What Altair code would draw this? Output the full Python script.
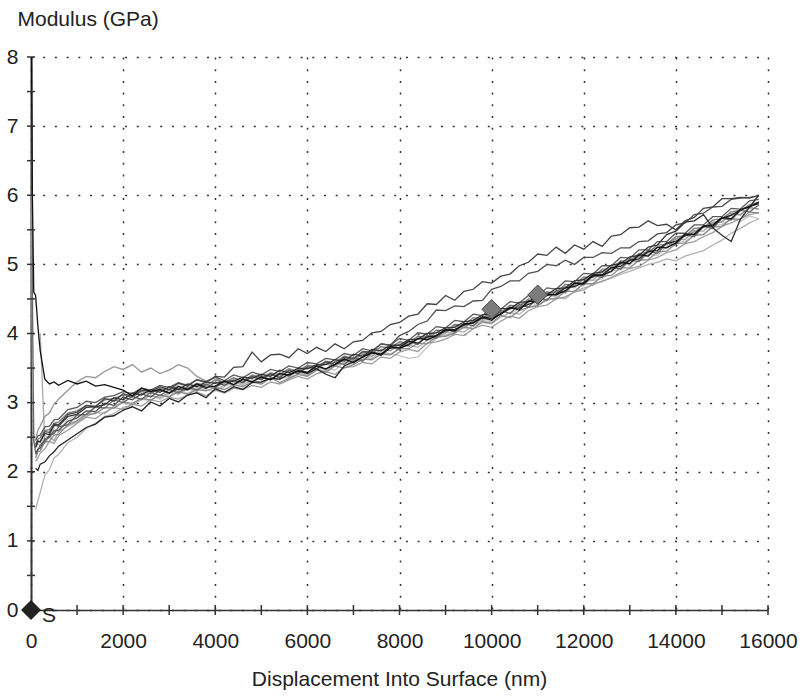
import altair as alt
import pandas as pd

N = None

# Depth grid (nm) shared by every indent curve
X = [10, 30, 60, 100, 150, 200, 300, 400, 500, 600, 800,
     1000, 1200, 1400, 1600, 1800, 2000, 2200, 2400, 2600, 2800,
     3000, 3200, 3400, 3600, 3800, 4000, 4200, 4400, 4600, 4800,
     5000, 5200, 5400, 5600, 5800, 6000, 6200, 6400, 6600, 6800,
     7000, 7200, 7400, 7600, 7800, 8000, 8200, 8400, 8600, 8800,
     9000, 9200, 9400, 9600, 9800, 10000, 10200, 10400, 10600, 10800,
     11000, 11200, 11400, 11600, 11800, 12000, 12200, 12400, 12600, 12800,
     13000, 13200, 13400, 13600, 13800, 14000, 14200, 14400, 14600, 14800,
     15000, 15200, 15400, 15600, 15800]

# Modulus (GPa) of each indent
J = [6.0, 3.6, 2.5, 2.35, 2.40, 2.38, 2.52, 2.49, 2.62, 2.58, 2.76,
     2.82, 2.80, 2.93, 2.92, 2.92, 3.02, 3.09, 3.03, 3.11, 3.05,
     3.13, 3.20, 3.13, 3.22, 3.18, 3.17, 3.26, 3.32, 3.26, 3.31,
     3.27, 3.36, 3.36, 3.36, 3.45, 3.40, 3.50, 3.49, 3.47, 3.59,
     3.62, 3.60, 3.70, 3.73, 3.71, 3.68, 3.64, 3.66, 3.80, 3.93,
     4.02, 4.00, 4.13, 4.12, 4.19, 4.17, 4.32, 4.29, 4.36, 4.44,
     4.42, 4.55, 4.53, 4.62, 4.60, 4.75, 4.77, 4.79, 4.91, 4.92,
     5.04, 5.04, 5.15, 5.13, 5.26, 5.35, 5.33, 5.43, 5.44, 5.56,
     5.58, 5.66, 5.62, 5.70, 5.66]
B = [N, N, N, 1.45, 1.58, 1.70, 1.95, 2.03, 2.20, 2.25, 2.42,
     2.50, 2.63, 2.70, 2.80, 2.84, 2.93, 2.96, 3.05, 3.03, 3.12,
     3.09, 3.17, 3.21, 3.16, 3.26, 3.20, 3.23, 3.30, 3.25, 3.33,
     3.29, 3.36, 3.33, 3.41, 3.44, 3.39, 3.48, 3.46, 3.53, 3.58,
     3.57, 3.66, 3.64, 3.73, 3.70, 3.79, 3.83, 3.80, 3.90, 3.94,
     3.97, 4.04, 4.02, 4.12, 4.16, 4.14, 4.24, 4.30, 4.28, 4.38,
     4.41, 4.48, 4.52, 4.50, 4.61, 4.66, 4.70, 4.76, 4.80, 4.86,
     4.90, 4.95, 5.00, 5.03, 5.08, 5.05, 5.12, 5.16, 5.20, 5.28,
     5.35, 5.45, 5.52, 5.60, 5.66]
L = [N, N, N, N, N, 4.0, 2.42, 2.50, 2.45, 2.58, 2.66,
     2.72, 2.80, 2.86, 2.84, 2.95, 3.00, 2.97, 3.06, 3.10, 3.07,
     3.15, 3.12, 3.21, 3.19, 3.26, 3.22, 3.29, 3.33, 3.28, 3.37,
     3.34, 3.40, 3.38, 3.46, 3.42, 3.51, 3.48, 3.57, 3.55, 3.64,
     3.60, 3.71, 3.74, 3.70, 3.80, 3.84, 3.81, 3.92, 3.97, 3.95,
     4.00, 4.11, 4.09, 4.20, 4.18, 4.29, 4.27, 4.38, 4.36, 4.47,
     4.46, 4.57, 4.55, 4.68, 4.66, 4.79, 4.77, 4.90, 4.89, 5.02,
     5.00, 5.13, 5.12, 5.25, 5.24, 5.37, 5.36, 5.49, 5.48, 5.61,
     5.62, 5.74, 5.71, 5.82, 5.80]
Nn = [N, N, N, 2.15, 2.20, 2.27, 2.33, 2.44, 2.41, 2.52, 2.60,
      2.70, 2.79, 2.77, 2.86, 2.93, 2.90, 2.98, 2.95, 3.04, 3.01,
      3.08, 3.05, 3.11, 3.15, 3.10, 3.18, 3.14, 3.21, 3.19, 3.25,
      3.22, 3.30, 3.27, 3.33, 3.38, 3.34, 3.42, 3.45, 3.41, 3.51,
      3.52, 3.58, 3.56, 3.66, 3.64, 3.73, 3.77, 3.74, 3.86, 3.88,
      3.92, 3.99, 3.97, 4.07, 4.12, 4.09, 4.18, 4.25, 4.22, 4.33,
      4.39, 4.41, 4.50, 4.53, 4.60, 4.63, 4.72, 4.75, 4.81, 4.88,
      4.94, 4.97, 5.06, 5.10, 5.17, 5.21, 5.30, 5.33, 5.40, 5.46,
      5.55, 5.60, 5.66, 5.72, 5.75]
D = [N, N, N, 2.48, 2.60, 2.66, 2.80, 2.85, 2.98, 3.05, 3.18,
     3.30, 3.38, 3.36, 3.45, 3.52, 3.48, 3.55, 3.44, 3.50, 3.42,
     3.47, 3.55, 3.50, 3.38, 3.31, 3.36, 3.28, 3.35, 3.30, 3.39,
     3.34, 3.41, 3.38, 3.46, 3.43, 3.51, 3.49, 3.56, 3.53, 3.63,
     3.61, 3.70, 3.67, 3.77, 3.75, 3.85, 3.84, 3.93, 3.92, 4.02,
     4.01, 4.13, 4.08, 4.18, 4.24, 4.26, 4.31, 4.36, 4.42, 4.45,
     4.52, 4.55, 4.62, 4.66, 4.70, 4.79, 4.82, 4.88, 4.96, 5.00,
     5.08, 5.11, 5.20, 5.24, 5.29, 5.37, 5.43, 5.47, 5.55, 5.60,
     5.61, 5.73, 5.72, 5.82, 5.80]
H = [N, N, N, 2.20, 2.29, 2.30, 2.43, 2.44, 2.53, 2.54, 2.68,
     2.74, 2.83, 2.84, 2.93, 2.92, 3.01, 2.99, 3.06, 3.04, 3.11,
     3.08, 3.16, 3.12, 3.19, 3.17, 3.22, 3.19, 3.26, 3.23, 3.30,
     3.27, 3.36, 3.29, 3.35, 3.41, 3.38, 3.47, 3.44, 3.53, 3.50,
     3.55, 3.63, 3.62, 3.70, 3.69, 3.78, 3.78, 3.86, 3.85, 3.95,
     3.96, 4.01, 4.09, 4.07, 4.17, 4.15, 4.26, 4.23, 4.33, 4.38,
     4.40, 4.50, 4.50, 4.61, 4.61, 4.72, 4.72, 4.83, 4.84, 4.95,
     4.95, 5.06, 5.07, 5.18, 5.19, 5.30, 5.31, 5.42, 5.43, 5.54,
     5.55, 5.66, 5.65, 5.76, 5.74]
G = [N, N, N, 2.40, 2.47, 2.49, 2.60, 2.61, 2.70, 2.72, 2.85,
     2.88, 2.96, 2.95, 3.04, 3.06, 3.11, 3.08, 3.16, 3.13, 3.21,
     3.18, 3.24, 3.20, 3.28, 3.25, 3.33, 3.29, 3.36, 3.31, 3.40,
     3.36, 3.43, 3.41, 3.49, 3.45, 3.54, 3.52, 3.60, 3.58, 3.67,
     3.64, 3.73, 3.71, 3.81, 3.79, 3.88, 3.86, 3.96, 3.94, 4.05,
     4.04, 4.13, 4.12, 4.23, 4.21, 4.32, 4.30, 4.41, 4.39, 4.50,
     4.50, 4.60, 4.59, 4.71, 4.70, 4.82, 4.81, 4.93, 4.93, 5.05,
     5.05, 5.16, 5.17, 5.28, 5.29, 5.40, 5.41, 5.52, 5.53, 5.64,
     5.66, 5.76, 5.78, 5.86, 5.90]
I = [8.0, 4.6, 2.45, 2.28, 2.31, 2.39, 2.44, 2.53, 2.55, 2.65, 2.68,
     2.82, 2.83, 2.94, 2.92, 3.04, 3.00, 3.09, 3.05, 3.15, 3.10,
     3.19, 3.14, 3.23, 3.18, 3.27, 3.22, 3.31, 3.25, 3.35, 3.29,
     3.39, 3.33, 3.43, 3.38, 3.48, 3.43, 3.53, 3.48, 3.59, 3.55,
     3.66, 3.60, 3.73, 3.68, 3.81, 3.76, 3.89, 3.84, 3.97, 3.93,
     4.06, 4.02, 4.15, 4.11, 4.24, 4.20, 4.33, 4.29, 4.42, 4.38,
     4.52, 4.48, 4.62, 4.59, 4.73, 4.70, 4.84, 4.81, 4.96, 4.93,
     5.07, 5.04, 5.19, 5.16, 5.31, 5.28, 5.43, 5.40, 5.55, 5.52,
     5.67, 5.64, 5.78, 5.76, 5.86]
M = [N, N, N, 2.45, 2.52, 2.53, 2.65, 2.66, 2.75, 2.76, 2.90,
     2.93, 3.02, 3.00, 3.08, 3.10, 3.16, 3.13, 3.21, 3.18, 3.25,
     3.22, 3.29, 3.25, 3.33, 3.30, 3.37, 3.32, 3.40, 3.36, 3.44,
     3.40, 3.48, 3.45, 3.53, 3.50, 3.58, 3.56, 3.64, 3.62, 3.71,
     3.68, 3.78, 3.75, 3.85, 3.83, 3.93, 3.90, 4.01, 3.99, 4.10,
     4.08, 4.19, 4.17, 4.28, 4.26, 4.37, 4.35, 4.46, 4.44, 4.55,
     4.54, 4.66, 4.64, 4.76, 4.75, 4.87, 4.86, 4.98, 4.98, 5.10,
     5.09, 5.21, 5.21, 5.33, 5.33, 5.45, 5.45, 5.57, 5.57, 5.69,
     5.69, 5.81, 5.80, 5.92, 5.94]
F = [N, N, N, 2.25, 2.33, 2.34, 2.47, 2.50, 2.59, 2.60, 2.73,
     2.78, 2.88, 2.87, 2.99, 2.96, 3.08, 3.04, 3.13, 3.08, 3.18,
     3.14, 3.20, 3.18, 3.26, 3.20, 3.30, 3.25, 3.32, 3.29, 3.38,
     3.33, 3.42, 3.36, 3.47, 3.42, 3.52, 3.49, 3.59, 3.55, 3.66,
     3.63, 3.74, 3.73, 3.85, 3.83, 3.97, 4.03, 4.13, 4.18, 4.34,
     4.33, 4.40, 4.39, 4.47, 4.48, 4.64, 4.68, 4.76, 4.76, 4.87,
     4.90, 5.00, 4.98, 5.06, 5.00, 5.10, 5.10, 5.17, 5.16, 5.24,
     5.24, 5.33, 5.34, 5.44, 5.46, 5.57, 5.60, 5.72, 5.74, 5.83,
     5.84, 5.94, 5.96, 5.97, 5.99]
E = [N, N, N, 2.38, 2.45, 2.43, 2.58, 2.57, 2.69, 2.68, 2.83,
     2.86, 2.96, 2.94, 3.06, 3.02, 3.13, 3.09, 3.18, 3.16, 3.23,
     3.19, 3.28, 3.24, 3.33, 3.29, 3.38, 3.37, 3.51, 3.52, 3.73,
     3.59, 3.69, 3.70, 3.65, 3.78, 3.71, 3.80, 3.74, 3.85, 3.78,
     3.88, 3.90, 4.01, 4.03, 4.13, 4.16, 4.25, 4.28, 4.43, 4.42,
     4.55, 4.48, 4.61, 4.64, 4.75, 4.73, 4.83, 4.86, 4.98, 5.03,
     5.15, 5.13, 5.25, 5.16, 5.28, 5.22, 5.33, 5.26, 5.41, 5.43,
     5.53, 5.54, 5.63, 5.56, 5.58, 5.50, 5.63, 5.68, 5.81, 5.83,
     5.95, 5.95, 5.97, 5.96, 6.00]
K = [N, N, N, 2.35, 2.43, 2.44, 2.55, 2.54, 2.67, 2.66, 2.80,
     2.83, 2.93, 2.94, 2.97, 3.07, 3.04, 3.14, 3.11, 3.19, 3.15,
     3.23, 3.19, 3.27, 3.23, 3.30, 3.28, 3.31, 3.31, 3.37, 3.35,
     3.41, 3.38, 3.47, 3.43, 3.50, 3.49, 3.55, 3.55, 3.62, 3.60,
     3.70, 3.67, 3.77, 3.75, 3.83, 3.83, 3.91, 3.92, 4.00, 4.01,
     4.08, 4.09, 4.17, 4.19, 4.27, 4.28, 4.36, 4.36, 4.45, 4.46,
     4.55, 4.56, 4.65, 4.66, 4.76, 4.78, 4.87, 4.89, 4.99, 5.01,
     5.11, 5.13, 5.25, 5.28, 5.43, 5.48, 5.61, 5.63, 5.72, 5.53,
     5.42, 5.33, 5.65, 5.83, 6.00]
C = [N, N, N, 2.05, 2.02, 2.11, 2.14, 2.23, 2.29, 2.37, 2.46,
     2.55, 2.64, 2.69, 2.79, 2.81, 2.89, 2.94, 2.88, 3.01, 2.95,
     3.06, 3.01, 3.11, 3.14, 3.07, 3.20, 3.15, 3.23, 3.19, 3.29,
     3.30, 3.35, 3.34, 3.41, 3.46, 3.42, 3.49, 3.41, 3.36, 3.53,
     3.59, 3.66, 3.73, 3.69, 3.79, 3.80, 3.89, 3.86, 3.95, 3.97,
     4.04, 4.06, 4.12, 4.16, 4.23, 4.19, 4.29, 4.36, 4.37, 4.42,
     4.48, 4.55, 4.57, 4.66, 4.68, 4.74, 4.83, 4.85, 4.95, 4.97,
     5.06, 5.08, 5.19, 5.20, 5.31, 5.33, 5.42, 5.44, 5.56, 5.55,
     5.67, 5.71, 5.79, 5.84, 5.88]
A = [8.0, 6.0, 4.6, 4.55, 4.1, 3.75, 3.34, 3.27, 3.30, 3.25, 3.32,
     3.27, 3.31, 3.24, 3.26, 3.22, 3.18, 3.10, 3.21, 3.16, 3.19,
     3.14, 3.23, 3.19, 3.27, 3.22, 3.24, 3.31, 3.26, 3.34, 3.30,
     3.37, 3.33, 3.42, 3.40, 3.46, 3.44, 3.53, 3.49, 3.55, 3.63,
     3.58, 3.66, 3.72, 3.70, 3.81, 3.79, 3.84, 3.93, 3.91, 3.97,
     4.06, 4.04, 4.14, 4.15, 4.24, 4.22, 4.28, 4.38, 4.34, 4.47,
     4.46, 4.57, 4.56, 4.62, 4.73, 4.72, 4.85, 4.84, 4.90, 5.03,
     5.01, 5.14, 5.12, 5.25, 5.24, 5.31, 5.44, 5.43, 5.55, 5.57,
     5.68, 5.66, 5.79, 5.83, 5.90]

curve_names = ["J", "B", "L", "N", "D", "H", "G", "I", "M", "F", "E", "K", "C", "A"]
curve_values = [J, B, L, Nn, D, H, G, I, M, F, E, K, C, A]
curve_colors = ["#c4c4c4", "#b2b2b2", "#a8a8a8", "#9e9e9e", "#969696", "#8a8a8a",
                "#7a7a7a", "#686868", "#5a5a5a", "#505050", "#444444", "#333333",
                "#222222", "#111111"]

# Marker points
marker_x = [0]
marker_y = [0]
marker_text = ["S"]
grey_marker_x = [10000, 11000]
grey_marker_y = [4.35, 4.56]

x_label_values = [0, 2000, 4000, 6000, 8000, 10000, 12000, 14000, 16000]
y_label_values = [0, 1, 2, 3, 4, 5, 6, 7, 8]
x_tick_values = [0, 1000, 2000, 3000, 4000, 5000, 6000, 7000, 8000, 9000, 10000,
                 11000, 12000, 13000, 14000, 15000, 16000]
y_tick_values = [0, 0.5, 1, 1.5, 2, 2.5, 3, 3.5, 4, 4.5, 5, 5.5, 6, 6.5, 7, 7.5, 8]

rows = []
for name, vals in zip(curve_names, curve_values):
    assert len(vals) == len(X), (name, len(vals))
    for xv, yv in zip(X, vals):
        if yv is not None:
            rows.append({"curve": name, "x": xv, "y": yv})
df = pd.DataFrame(rows)

FONT = "Liberation Sans"
W, Hh = 737, 553
xscale = alt.Scale(domain=[0, 16000], nice=False, zero=False)
yscale = alt.Scale(domain=[0, 8], nice=False, zero=False)

x_axis = alt.Axis(values=x_label_values, format="d", title="Displacement Into Surface (nm)",
                  grid=True, gridDash=[2, 9.7], gridColor="#333333", gridWidth=1.5,
                  ticks=False, tickSize=0, domain=True, domainColor="#333333", domainWidth=1.5,
                  labelFont=FONT, labelFontSize=21, labelColor="#222222", labelPadding=20,
                  labelFlush=False, labelOverlap=False,
                  titleFont=FONT, titleFontSize=21, titleFontWeight="normal", titleColor="#222222",
                  titleX=368, titleY=75, titleBaseline="alphabetic", titleAlign="center")
y_axis = alt.Axis(values=y_label_values, format="d", title="Modulus (GPa)",
                  grid=True, gridDash=[2, 9.7], gridColor="#333333", gridWidth=1.5,
                  ticks=False, tickSize=0, domain=True, domainColor="#333333", domainWidth=2,
                  labelFont=FONT, labelFontSize=21, labelColor="#222222", labelPadding=13,
                  labelFlush=False, labelOverlap=False,
                  titleFont=FONT, titleFontSize=21, titleFontWeight="normal", titleColor="#222222",
                  titleAngle=0, titleAlign="left", titleBaseline="alphabetic",
                  titleX=-14, titleY=-32)

lines = alt.Chart(df).mark_line(strokeWidth=1.3, clip=True).encode(
    x=alt.X("x:Q", scale=xscale, axis=x_axis),
    y=alt.Y("y:Q", scale=yscale, axis=y_axis),
    color=alt.Color("curve:N", scale=alt.Scale(domain=curve_names, range=curve_colors), legend=None),
    order=alt.Order("x:Q"),
)

xt = alt.Chart(pd.DataFrame({"x": x_tick_values})).mark_rule(color="#333333", strokeWidth=1.5).encode(
    x=alt.X("x:Q", scale=xscale),
    y=alt.value(Hh - 5), y2=alt.value(Hh + 5),
)
yt = alt.Chart(pd.DataFrame({"y": y_tick_values})).mark_rule(color="#333333", strokeWidth=1.5).encode(
    y=alt.Y("y:Q", scale=yscale),
    x=alt.value(-4), x2=alt.value(4),
)

gm = alt.Chart(pd.DataFrame({"x": grey_marker_x, "y": grey_marker_y})).mark_point(
    shape="diamond", filled=True, size=380, fill="#7c7c7c", stroke="#444444", strokeWidth=1, opacity=1
).encode(x=alt.X("x:Q", scale=xscale), y=alt.Y("y:Q", scale=yscale))

mdf = pd.DataFrame({"x": marker_x, "y": marker_y, "t": marker_text})
bm = alt.Chart(mdf).mark_point(shape="diamond", filled=True, size=400, color="#222222", opacity=1).encode(
    x=alt.X("x:Q", scale=xscale), y=alt.Y("y:Q", scale=yscale))
st = alt.Chart(mdf).mark_text(font=FONT, fontSize=21, color="#222222", dx=18, dy=6,
                              align="center", baseline="middle").encode(
    x=alt.X("x:Q", scale=xscale), y=alt.Y("y:Q", scale=yscale), text="t:N")

chart = alt.layer(lines, xt, yt, gm, bm, st).properties(
    width=W, height=Hh,
    padding={"left": 31, "top": 57, "right": 37, "bottom": 88},
    autosize=alt.AutoSizeParams(type="none"),
    background="white",
).configure_view(stroke=None)

chart.save("out.html", embed_options={"renderer": "svg", "actions": False})
